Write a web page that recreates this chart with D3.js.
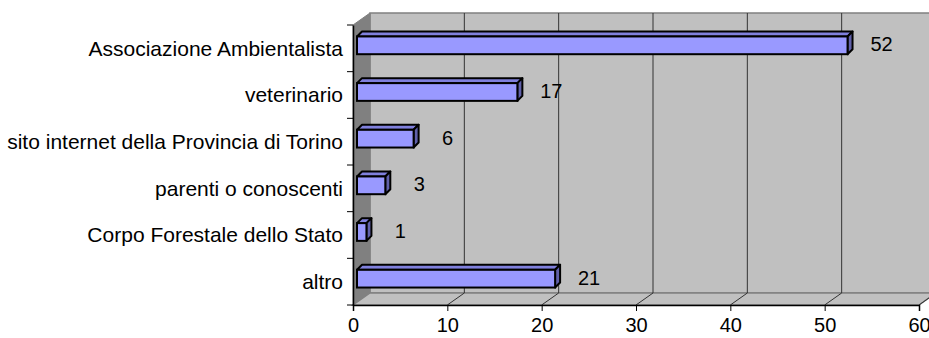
<!DOCTYPE html>
<html>
<head>
<meta charset="utf-8">
<script src="https://cdn.jsdelivr.net/npm/d3@7"></script>
<style>
    body { margin: 0; background: #fff; }
    svg { display: block; font-family: "Liberation Sans", Arial, sans-serif; }
    .axis text { fill: #000; }
    .x.axis text { font-size: 20px; }
    .y.axis text { font-size: 21px; }
</style>
</head>
<body>
<svg id="bar"></svg>
<script>
// categories + values
var categories = ["Associazione Ambientalista", "veterinario", "sito internet della Provincia di Torino",
    "parenti o conoscenti", "Corpo Forestale dello Stato", "altro"];
var values = [52, 17, 6, 3, 1, 21];
var xTicks = [0, 10, 20, 30, 40, 50, 60];

var width = 929, height = 338;
// front plane of the 3d box
var plot = {left: 353, right: 919, top: 25, bottom: 305};
// depth of the box (to the back wall)
var depth = {dx: 17, dy: -12};

drawBars()

function drawBars() {
    var data = categories.map(function(c, i) { return {cat: c, value: values[i]}; });

    var xScale = d3.scaleLinear()
        .domain([0, 60])
        .range([plot.left, plot.right]);

    var yScale = d3.scaleBand()
        .domain(categories)
        .range([plot.top, plot.bottom])
        .paddingInner(0.62)
        .paddingOuter(0.31);

    var svg = d3.select("#bar")
        .attr("width", width)
        .attr("height", height);

    svg.append("rect").attr("width", width).attr("height", height).attr("fill", "#fff");

    // walls
    var backL = plot.left + depth.dx, backR = plot.right + depth.dx;
    var backT = plot.top + depth.dy, backB = plot.bottom + depth.dy;

    svg.append("rect")
        .attr("x", backL).attr("y", backT)
        .attr("width", backR - backL).attr("height", backB - backT)
        .attr("fill", "#c0c0c0")
        .attr("stroke", "#808080").attr("stroke-width", 1.5);

    svg.append("polygon") // left side wall
        .attr("points", [[plot.left, plot.top], [backL, backT], [backL, backB], [plot.left, plot.bottom]].join(" "))
        .attr("fill", "#808080")
        .attr("stroke", "#808080");

    svg.append("polygon") // floor
        .attr("points", [[plot.left, plot.bottom], [backL, backB], [backR, backB], [plot.right, plot.bottom]].join(" "))
        .attr("fill", "#c0c0c0")
        .attr("stroke", "#808080").attr("stroke-width", 1.5);

    // gridlines on back wall + floor
    var grid = svg.append("g").attr("class", "grid");
    grid.selectAll(".gv")
        .data(xTicks.filter(function(d) { return d > 0 && d < 60; }))
        .enter().append("line")
        .attr("x1", function(d) { return xScale(d) + depth.dx; })
        .attr("x2", function(d) { return xScale(d) + depth.dx; })
        .attr("y1", backT)
        .attr("y2", backB)
        .attr("stroke", "#333").attr("stroke-width", 1);

    grid.selectAll(".gf")
        .data(xTicks.filter(function(d) { return d > 0; }))
        .enter().append("line")
        .attr("x1", function(d) { return xScale(d); })
        .attr("x2", function(d) { return xScale(d) + depth.dx; })
        .attr("y1", plot.bottom)
        .attr("y2", backB)
        .attr("stroke", "#333").attr("stroke-width", 1);

    // x axis
    var xAxis = d3.axisBottom(xScale)
        .tickValues(xTicks)
        .tickSize(6)
        .tickPadding(7)
        .tickFormat(d3.format(".0f"));

    var gx = svg.append("g")
        .attr("class", "x axis")
        .attr("transform", "translate(0," + plot.bottom + ")")
        .call(xAxis);
    gx.select(".domain").attr("stroke", "#000").attr("stroke-width", 1.5);

    // y axis (ticks sit on the category boundaries)
    var yAxis = d3.axisLeft(yScale).tickSize(0).tickPadding(10);
    var gy = svg.append("g")
        .attr("class", "y axis")
        .attr("transform", "translate(" + plot.left + ",0)")
        .call(yAxis);
    gy.select(".domain").attr("stroke", "#000").attr("stroke-width", 1.5);
    gy.selectAll(".tick text").attr("dy", "0.35em");

    var step = yScale.step();
    gy.selectAll(".bound")
        .data(d3.range(categories.length + 1))
        .enter().append("line")
        .attr("x1", -6).attr("x2", 0)
        .attr("y1", function(i) { return plot.top + i * step; })
        .attr("y2", function(i) { return plot.top + i * step; })
        .attr("stroke", "#000");

    // 3d bars
    var off = {dx: 4, dy: -3}, bd = {dx: 5, dy: -5};
    var bars = svg.selectAll(".bar")
        .data(data)
        .enter().append("g")
        .attr("class", "bar");

    function face(d) {
        var x0 = xScale(0) + off.dx, x1 = xScale(d.value) + off.dx;
        var y0 = yScale(d.cat) + off.dy, y1 = y0 + yScale.bandwidth();
        return {x0: x0, x1: x1, y0: y0, y1: y1};
    }

    bars.append("polygon") // top
        .attr("points", function(d) {
            var f = face(d);
            return [[f.x0, f.y0], [f.x0 + bd.dx, f.y0 + bd.dy], [f.x1 + bd.dx, f.y0 + bd.dy], [f.x1, f.y0]].join(" ");
        })
        .attr("fill", "#8080dd").attr("stroke", "#000").attr("stroke-width", 2).attr("stroke-linejoin", "round");

    bars.append("polygon") // side
        .attr("points", function(d) {
            var f = face(d);
            return [[f.x1, f.y0], [f.x1 + bd.dx, f.y0 + bd.dy], [f.x1 + bd.dx, f.y1 + bd.dy], [f.x1, f.y1]].join(" ");
        })
        .attr("fill", "#6060aa").attr("stroke", "#000").attr("stroke-width", 2).attr("stroke-linejoin", "round");

    bars.append("rect") // front
        .attr("x", function(d) { return face(d).x0; })
        .attr("y", function(d) { return face(d).y0; })
        .attr("width", function(d) { return face(d).x1 - face(d).x0; })
        .attr("height", yScale.bandwidth())
        .attr("fill", "#9999ff").attr("stroke", "#000").attr("stroke-width", 2);

    // value labels
    svg.selectAll(".lbl")
        .data(data)
        .enter().append("text")
        .attr("class", "lbl")
        .attr("x", function(d) { return xScale(d.value) + 38; })
        .attr("y", function(d) { return yScale(d.cat) + yScale.bandwidth() / 2 - 4; })
        .attr("dy", "0.35em")
        .attr("text-anchor", "middle")
        .attr("font-size", "20px")
        .text(function(d) { return d.value; });
}
</script>
</body>
</html>
